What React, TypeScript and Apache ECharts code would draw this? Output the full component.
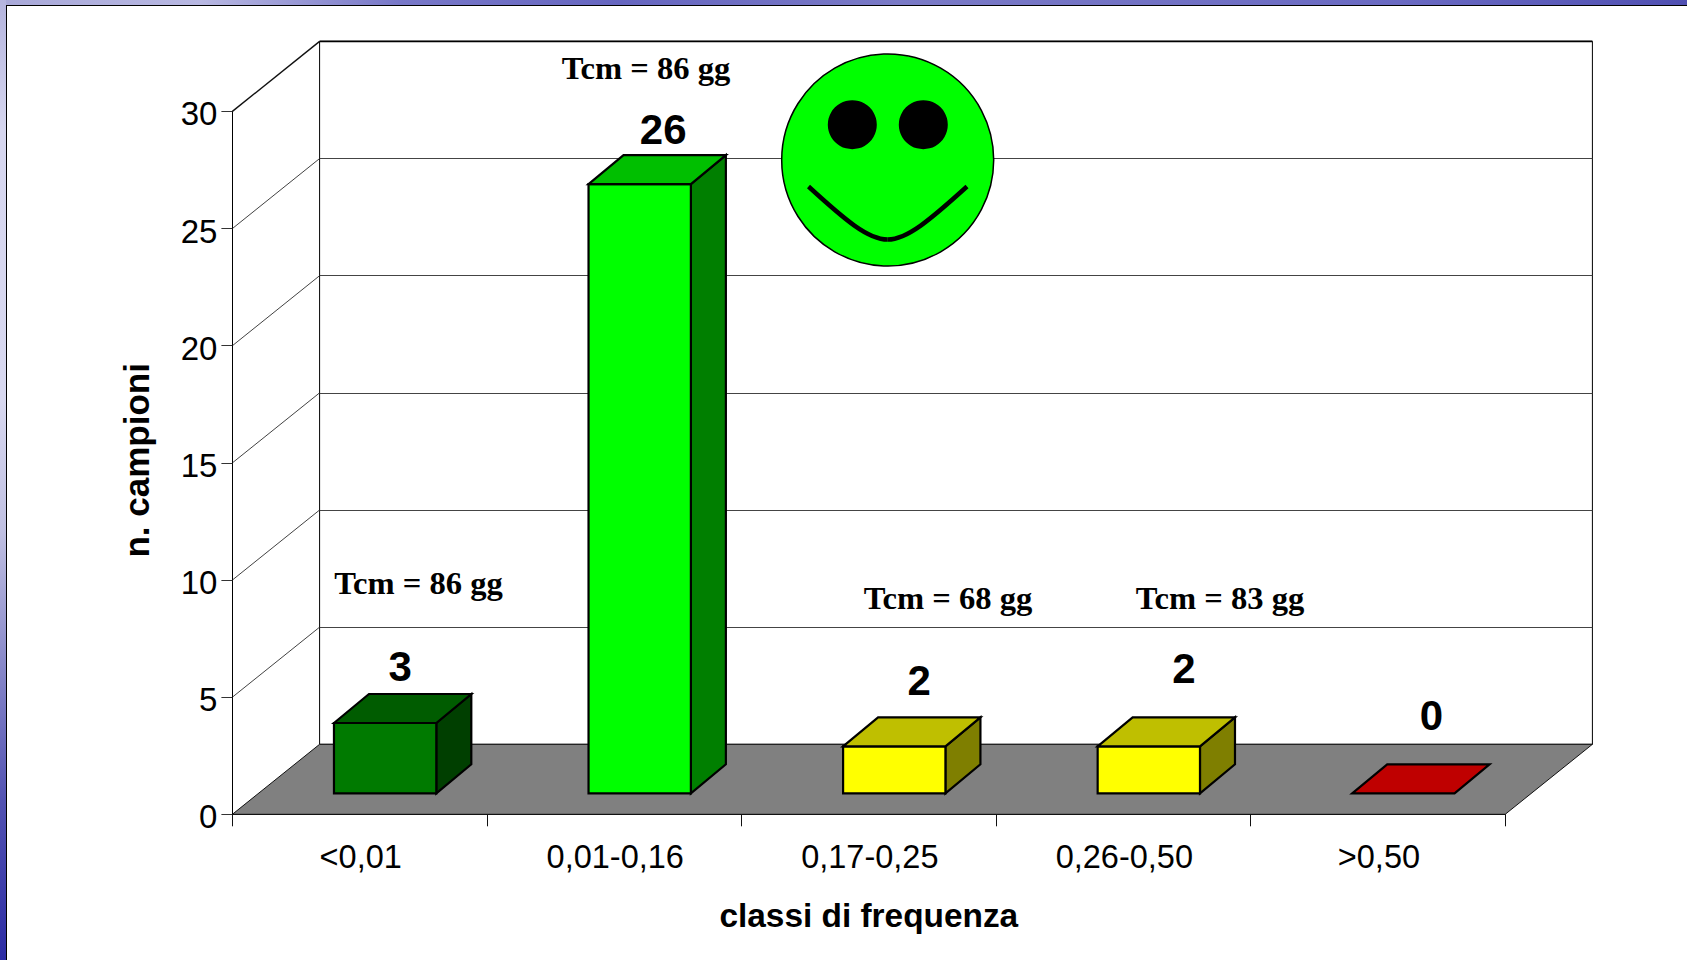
import React, { useEffect, useRef } from "react";
import * as echarts from "echarts";

// ---- data ----
const categories = ["<0,01", "0,01-0,16", "0,17-0,25", "0,26-0,50", ">0,50"];
const sampleCounts = [3, 26, 2, 2, 0];
const tcmTexts = ["Tcm = 86 gg", "Tcm = 86 gg", "Tcm = 68 gg", "Tcm = 83 gg"];
const yTicks = [0, 5, 10, 15, 20, 25, 30];
const xTitle = "classi di frequenza";
const yTitle = "n. campioni";

// ---- layout and style ----
const FRONT = { left: 232.4, right: 1505.2, top: 111.4, bottom: 814.3 };
const WALL_DX = 87.2;
const WALL_DY = 70;
const BAR_FRONT = 0.3; // share of the floor depth in front of the bars
const BAR_W = 0.402; // share of a category
const BAR_SHIFT = -0.7;
const BAR_DX = 35;
const BAR_DY = 29;
const barFaces = [
  ["#007a00", "#005c00", "#003f00"],
  ["#00ff00", "#00bf00", "#007f00"],
  ["#ffff00", "#bfbf00", "#7f7f00"],
  ["#ffff00", "#bfbf00", "#7f7f00"],
  ["#ff0000", "#bf0000", "#7f0000"],
];
const labelNudge = [
  [15, -57],
  [23.5, -55],
  [25, -66],
  [35, -77.5],
  [28, -77.5],
];
const tcmSpots = [
  [418.5, 583],
  [646, 68],
  [948, 597.5],
  [1220, 597.5],
];
const SANS = '"Liberation Sans", Arial, sans-serif';
const SERIF = '"Liberation Serif", "Times New Roman", serif';

function renderWalls(params: any, api: any) {
  const cs = params.coordSys;
  const v = api.value(0);
  const y = api.coord([0, v])[1];
  const children: any[] = [];
  if (params.dataIndex === 0) {
    children.push({
      type: "polygon",
      shape: {
        points: [
          [cs.x, y],
          [cs.x + WALL_DX, y - WALL_DY],
          [cs.x + cs.width + WALL_DX, y - WALL_DY],
          [cs.x + cs.width, y],
        ],
      },
      style: { fill: "#808080", stroke: "#111", lineWidth: 1 },
    });
  } else {
    children.push({
      type: "line",
      shape: { x1: cs.x, y1: y, x2: cs.x + WALL_DX, y2: y - WALL_DY },
      style: { stroke: "#111", lineWidth: v === 30 ? 1.4 : 0.8 },
    });
    if (v === 30) {
      children.push({
        type: "line",
        shape: { x1: cs.x + WALL_DX, y1: y - WALL_DY, x2: cs.x + cs.width + WALL_DX, y2: y - WALL_DY },
        style: { stroke: "#000", lineWidth: 1.6 },
      });
    }
  }
  return { type: "group", children };
}

function renderBar(params: any, api: any) {
  const i = api.value(0);
  const v = api.value(1);
  const cs = params.coordSys;
  const catW = cs.width / categories.length;
  const base = api.coord([i, 0]);
  const top = api.coord([i, v]);
  const off = BAR_FRONT * WALL_DX + BAR_SHIFT;
  const lift = BAR_FRONT * WALL_DY;
  const w = catW * BAR_W;
  const x0 = base[0] + off - w / 2;
  const x1 = x0 + w;
  const yb = base[1] - lift;
  const yt = top[1] - lift;
  const [front, upper, side] = barFaces[i];
  const stroke = { stroke: "#000", lineWidth: 2.2, lineJoin: "miter" };
  const children: any[] = [];
  if (v > 0) {
    children.push({
      type: "polygon",
      shape: { points: [[x1, yb], [x1 + BAR_DX, yb - BAR_DY], [x1 + BAR_DX, yt - BAR_DY], [x1, yt]] },
      style: { fill: side, ...stroke },
    });
    children.push({
      type: "rect",
      shape: { x: x0, y: yt, width: w, height: yb - yt },
      style: { fill: front, ...stroke },
    });
  }
  children.push({
    type: "polygon",
    shape: { points: [[x0, yt], [x0 + BAR_DX, yt - BAR_DY], [x1 + BAR_DX, yt - BAR_DY], [x1, yt]] },
    style: { fill: upper, ...stroke },
  });
  const [nx, ny] = labelNudge[i];
  children.push({
    type: "text",
    x: x0 + w / 2 + nx,
    y: yt + ny,
    style: {
      text: String(v),
      font: `bold 42px ${SANS}`,
      fill: "#000",
      align: "center",
      verticalAlign: "middle",
    },
  });
  return { type: "group", children };
}

export default function App() {
  const ref = useRef<HTMLDivElement>(null);

  useEffect(() => {
    const chart = echarts.init(ref.current!, undefined, { renderer: "svg" });
    const frontW = FRONT.right - FRONT.left;
    const frontH = FRONT.bottom - FRONT.top;
    const cx = 887.7;
    const cy = 160;
    chart.setOption({
      animation: false,
      backgroundColor: "transparent",
      grid: [
        {
          left: FRONT.left,
          top: FRONT.top,
          width: frontW,
          height: frontH,
          outerBoundsMode: "none",
        },
        {
          show: true,
          left: FRONT.left + WALL_DX,
          top: FRONT.top - WALL_DY,
          width: frontW,
          height: frontH,
          backgroundColor: "transparent",
          borderColor: "#000",
          borderWidth: 1,
          outerBoundsMode: "none",
        },
      ],
      xAxis: [
        {
          type: "category",
          gridIndex: 0,
          data: categories,
          boundaryGap: true,
          axisLine: { lineStyle: { color: "#111", width: 1 } },
          axisTick: { show: true, interval: 0, alignWithLabel: false, length: 12, lineStyle: { color: "#111", width: 1 } },
          axisLabel: { color: "#000", fontFamily: SANS, fontSize: 32.5, margin: 26, padding: [0, 0, 0, 2] },
          name: xTitle,
          nameLocation: "middle",
          nameGap: 85,
          nameTextStyle: { color: "#000", fontFamily: SANS, fontWeight: "bold", fontSize: 33.4 },
          z: 1,
        },
        { type: "category", gridIndex: 1, data: categories, show: false },
      ],
      yAxis: [
        {
          type: "value",
          gridIndex: 0,
          min: 0,
          max: 30,
          interval: 5,
          axisLine: { show: true, lineStyle: { color: "#000", width: 1 } },
          axisTick: { show: true, length: 11, lineStyle: { color: "#333", width: 1 } },
          splitLine: { show: false },
          axisLabel: { color: "#000", fontFamily: SANS, fontSize: 33, margin: 15, verticalAlign: "top", lineHeight: 5 },
          name: yTitle,
          nameLocation: "middle",
          nameRotate: 90,
          nameGap: 78,
          nameTextStyle: { color: "#000", fontFamily: SANS, fontWeight: "bold", fontSize: 35, padding: [0, 0, 0, 5] },
          z: 1,
        },
        {
          type: "value",
          gridIndex: 1,
          min: 0,
          max: 30,
          interval: 5,
          axisLine: { show: false },
          axisTick: { show: false },
          axisLabel: { show: false },
          splitLine: { show: true, lineStyle: { color: "#444", width: 1 } },
        },
      ],
      series: [
        {
          type: "custom",
          name: "pareti",
          xAxisIndex: 0,
          yAxisIndex: 0,
          renderItem: renderWalls,
          data: yTicks.map((t) => [t]),
          encode: { y: 0 },
          silent: true,
          z: 0,
        },
        {
          type: "custom",
          name: "n. campioni",
          xAxisIndex: 0,
          yAxisIndex: 0,
          renderItem: renderBar,
          data: sampleCounts.map((v, i) => [i, v]),
          encode: { x: 0, y: 1 },
          silent: true,
          z: 3,
        },
      ],
      graphic: [
        ...tcmTexts.map((text, i) => ({
          type: "text",
          x: tcmSpots[i][0],
          y: tcmSpots[i][1],
          z: 5,
          style: {
            text,
            font: `bold 32.6px ${SERIF}`,
            fill: "#000",
            align: "center",
            verticalAlign: "middle",
          },
        })),
        {
          type: "circle",
          z: 6,
          shape: { cx, cy, r: 106 },
          style: { fill: "#00ff00", stroke: "#000", lineWidth: 1.5 },
        },
        { type: "circle", z: 7, shape: { cx: 852.3, cy: 124.7, r: 24.5 }, style: { fill: "#000" } },
        { type: "circle", z: 7, shape: { cx: 923.3, cy: 124.7, r: 24.5 }, style: { fill: "#000" } },
        {
          type: "bezierCurve",
          z: 7,
          shape: { x1: 808.5, y1: 186.5, cpx1: 845, cpy1: 220, cpx2: 868, cpy2: 239.5, x2: 887.7, y2: 239.5 },
          style: { stroke: "#000", fill: "none", lineWidth: 4.5 },
        },
        {
          type: "bezierCurve",
          z: 7,
          shape: { x1: 887.7, y1: 239.5, cpx1: 907, cpy1: 239.5, cpx2: 930, cpy2: 220, x2: 967, y2: 186.5 },
          style: { stroke: "#000", fill: "none", lineWidth: 4.5 },
        },
      ],
    });
    return () => chart.dispose();
  }, []);

  return (
    <div
      style={{
        position: "fixed",
        left: 0,
        top: 0,
        width: 1687,
        height: 960,
        overflow: "hidden",
        background:
          "linear-gradient(90deg, #a8a8d8 0px, #b8b8e2 200px, #7878c8 400px, #6666c0 620px, #7a7ac6 900px, #6a6ac2 1400px, #5050b2 1687px)",
      }}
    >
      <div
        style={{
          position: "absolute",
          left: 0,
          top: 0,
          width: 6,
          height: 960,
          background:
            "linear-gradient(180deg, #b4b4de 0px, #d6d6ef 130px, #d8d8f0 400px, #c0c0e2 530px, #8a8aca 660px, #5252b2 800px, #2c2ca4 960px)",
        }}
      />
      <div
        style={{
          position: "absolute",
          left: 5.5,
          top: 4.5,
          width: 1687,
          height: 960,
          background: "#fff",
          borderLeft: "1.5px solid #000",
          borderTop: "1.5px solid #000",
          boxSizing: "border-box",
        }}
      />
      <div ref={ref} style={{ position: "absolute", left: 0, top: 0, width: 1687, height: 960 }} />
    </div>
  );
}
